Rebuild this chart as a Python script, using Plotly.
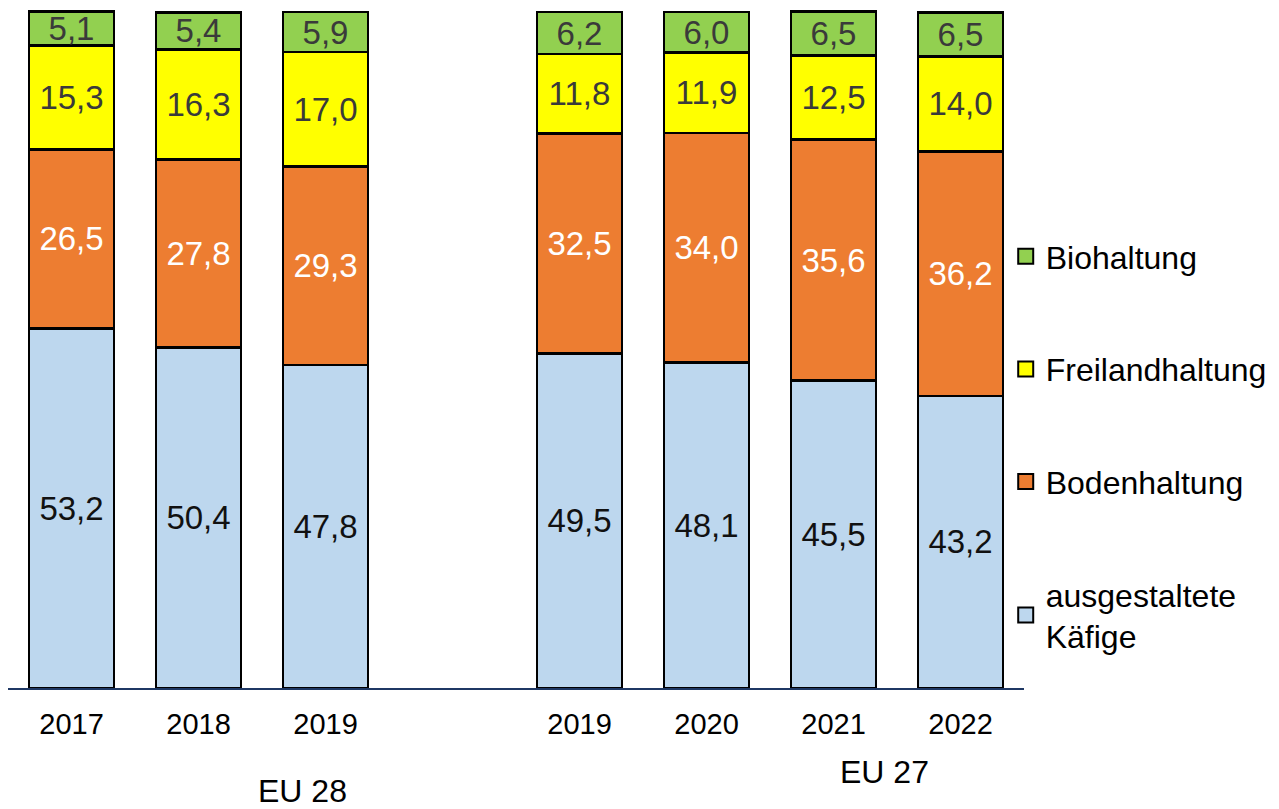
import plotly.graph_objects as go

years = ["2017", "2018", "2019", "2019", "2020", "2021", "2022"]
positions = [0, 1, 2, 4, 5, 6, 7]

kaefige = [53.2, 50.4, 47.8, 49.5, 48.1, 45.5, 43.2]
boden = [26.5, 27.8, 29.3, 32.5, 34.0, 35.6, 36.2]
freiland = [15.3, 16.3, 17.0, 11.8, 11.9, 12.5, 14.0]
bio = [5.1, 5.4, 5.9, 6.2, 6.0, 6.5, 6.5]

series = [
    ("ausgestaltete<br>Käfige", kaefige, "#BDD7EE", "#111111", 4),
    ("Bodenhaltung", boden, "#ED7D31", "#FFFFFF", 3),
    ("Freilandhaltung", freiland, "#FFFF00", "#3A3A3A", 2),
    ("Biohaltung", bio, "#92D050", "#3A3A3A", 1),
]

FONT = "Liberation Sans, Arial, sans-serif"

fig = go.Figure()
for name, vals, color, tcolor, rank in series:
    fig.add_trace(go.Bar(
        x=positions, y=vals, name=name, legendgroup=name, showlegend=False,
        width=0.67,
        marker=dict(color=color, line=dict(color="#000000", width=2.8)),
        texttemplate="%{y:.1f}", textposition="inside",
        insidetextanchor="middle", textangle=0, constraintext="none",
        textfont=dict(family=FONT, size=33, color=tcolor),
        hoverinfo="skip",
    ))
    # legend entry with a larger square symbol
    fig.add_trace(go.Scatter(
        x=[None], y=[None], mode="markers", name=name, legendgroup=name,
        legendrank=rank, showlegend=True,
        marker=dict(symbol="square", size=15, color=color,
                    line=dict(color="#000000", width=2)),
        hoverinfo="skip",
    ))

fig.update_layout(
    width=1271, height=801,
    barmode="stack",
    separators=", ",
    plot_bgcolor="white", paper_bgcolor="white",
    margin=dict(l=0, r=255, t=0, b=121),
    font=dict(family=FONT, color="#000000"),
    showlegend=True,
    legend=dict(
        traceorder="grouped", tracegroupgap=68, itemsizing="trace",
        x=0.982, xanchor="left", y=0.675, yanchor="top",
        font=dict(family=FONT, size=32, color="#000000"),
        bgcolor="rgba(0,0,0,0)",
    ),
    xaxis=dict(
        range=[-0.5, 7.5], tickmode="array", tickvals=positions, ticktext=years,
        showline=True, linecolor="#1F3864", linewidth=2,
        showgrid=False, zeroline=False, ticks="",
        tickfont=dict(family=FONT, size=29, color="#000000"),
        ticklabelstandoff=9,
    ),
    yaxis=dict(range=[0, 100.6], visible=False, showgrid=False, zeroline=False),
    annotations=[
        dict(text="EU 28", x=1.815, xref="x", y=-0.1515, yref="paper",
             xanchor="center", yanchor="middle", showarrow=False,
             font=dict(family=FONT, size=32, color="#000000")),
        dict(text="EU 27", x=6.40, xref="x", y=-0.1235, yref="paper",
             xanchor="center", yanchor="middle", showarrow=False,
             font=dict(family=FONT, size=32, color="#000000")),
    ],
)

fig.write_html("out.html")
